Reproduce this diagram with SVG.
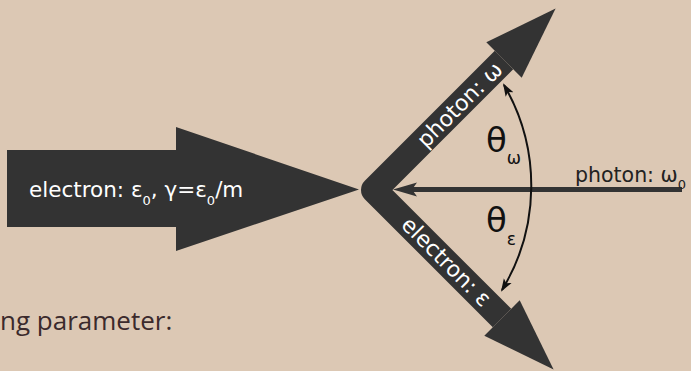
<svg xmlns="http://www.w3.org/2000/svg" width="691" height="371" viewBox="0 0 691 371">
  <defs>
    <style>
      .bg { fill: #dcc8b4; }
      .shape { fill: #333333; }
      .arm { fill: none; stroke: #333333; stroke-width: 26; stroke-linejoin: round; }
      .beam { fill: none; stroke: #333333; stroke-width: 5; }
      .arc { fill: none; stroke: #111111; stroke-width: 2; }
      .wlabel { font-family: "DejaVu Sans", sans-serif; font-size: 22px; fill: #ffffff; }
      .hlabel { font-size: 21.5px; }
      .dlabel { font-family: "DejaVu Sans", sans-serif; font-size: 20.5px; fill: #222222; }
      .theta { font-family: "DejaVu Sans", sans-serif; font-size: 34px; fill: #111111; }
      .sub { font-size: 13px; }
      .thsub { font-size: 17px; }
      .body { font-family: "Open Sans", "DejaVu Sans", sans-serif; font-size: 26px; fill: #3b2a2c; }
    </style>
    <marker id="tip" markerUnits="userSpaceOnUse" markerWidth="14" markerHeight="10" refX="11" refY="5" orient="auto-start-reverse">
      <path d="M0,0.5 L13,5 L0,9.5 L3,5 Z" fill="#111111"/>
    </marker>
  </defs>

  <rect class="bg" x="0" y="0" width="691" height="371"/>

  <g id="incoming-electron">
    <polygon class="shape" points="7,150 176,150 176,127 359,189.5 176,251 176,227 7,227"/>
    <text class="wlabel hlabel" x="29" y="197">electron: ε<tspan class="sub" dy="8">0</tspan><tspan dy="-8">, γ=ε</tspan><tspan class="sub" dy="8">0</tspan><tspan dy="-8">/m</tspan></text>
  </g>

  <g id="scattered">
    <path class="arm" d="M504,60 L374,190 L502,318"/>
    <polygon class="shape" points="486.3,42.3 555.6,8.4 521.7,77.7"/>
    <polygon class="shape" points="519.7,300.3 553.6,369.6 484.3,335.7"/>
  </g>

  <g id="photon-out-label">
    <text class="wlabel" transform="translate(460,105) rotate(-45)" x="0" y="7" text-anchor="middle">photon: ω</text>
  </g>

  <g id="electron-out-label">
    <text class="wlabel" transform="translate(446,262) rotate(45)" x="0" y="7" text-anchor="middle">electron: ε</text>
  </g>

  <g id="connectors">
    <line class="beam" x1="682" y1="189.5" x2="412" y2="189.5"/>
    <polygon class="shape" points="393,189.5 417,182.5 412,189.5 417,196.5"/>
    <path class="arc" d="M504,85 A200,200 0 0 1 502,290" marker-start="url(#tip)" marker-end="url(#tip)"/>
  </g>

  <g id="photon-in-label">
    <text class="dlabel" x="575" y="182">photon: ω<tspan class="sub" font-size="12" dy="7">0</tspan></text>
  </g>

  <g id="theta-labels">
    <text class="theta" x="486" y="152">θ<tspan class="thsub" dy="12">ω</tspan></text>
    <text class="theta" x="486" y="232">θ<tspan class="thsub" dy="13">ε</tspan></text>
  </g>

  <text class="body" x="0" y="330">ng parameter:</text>
</svg>
